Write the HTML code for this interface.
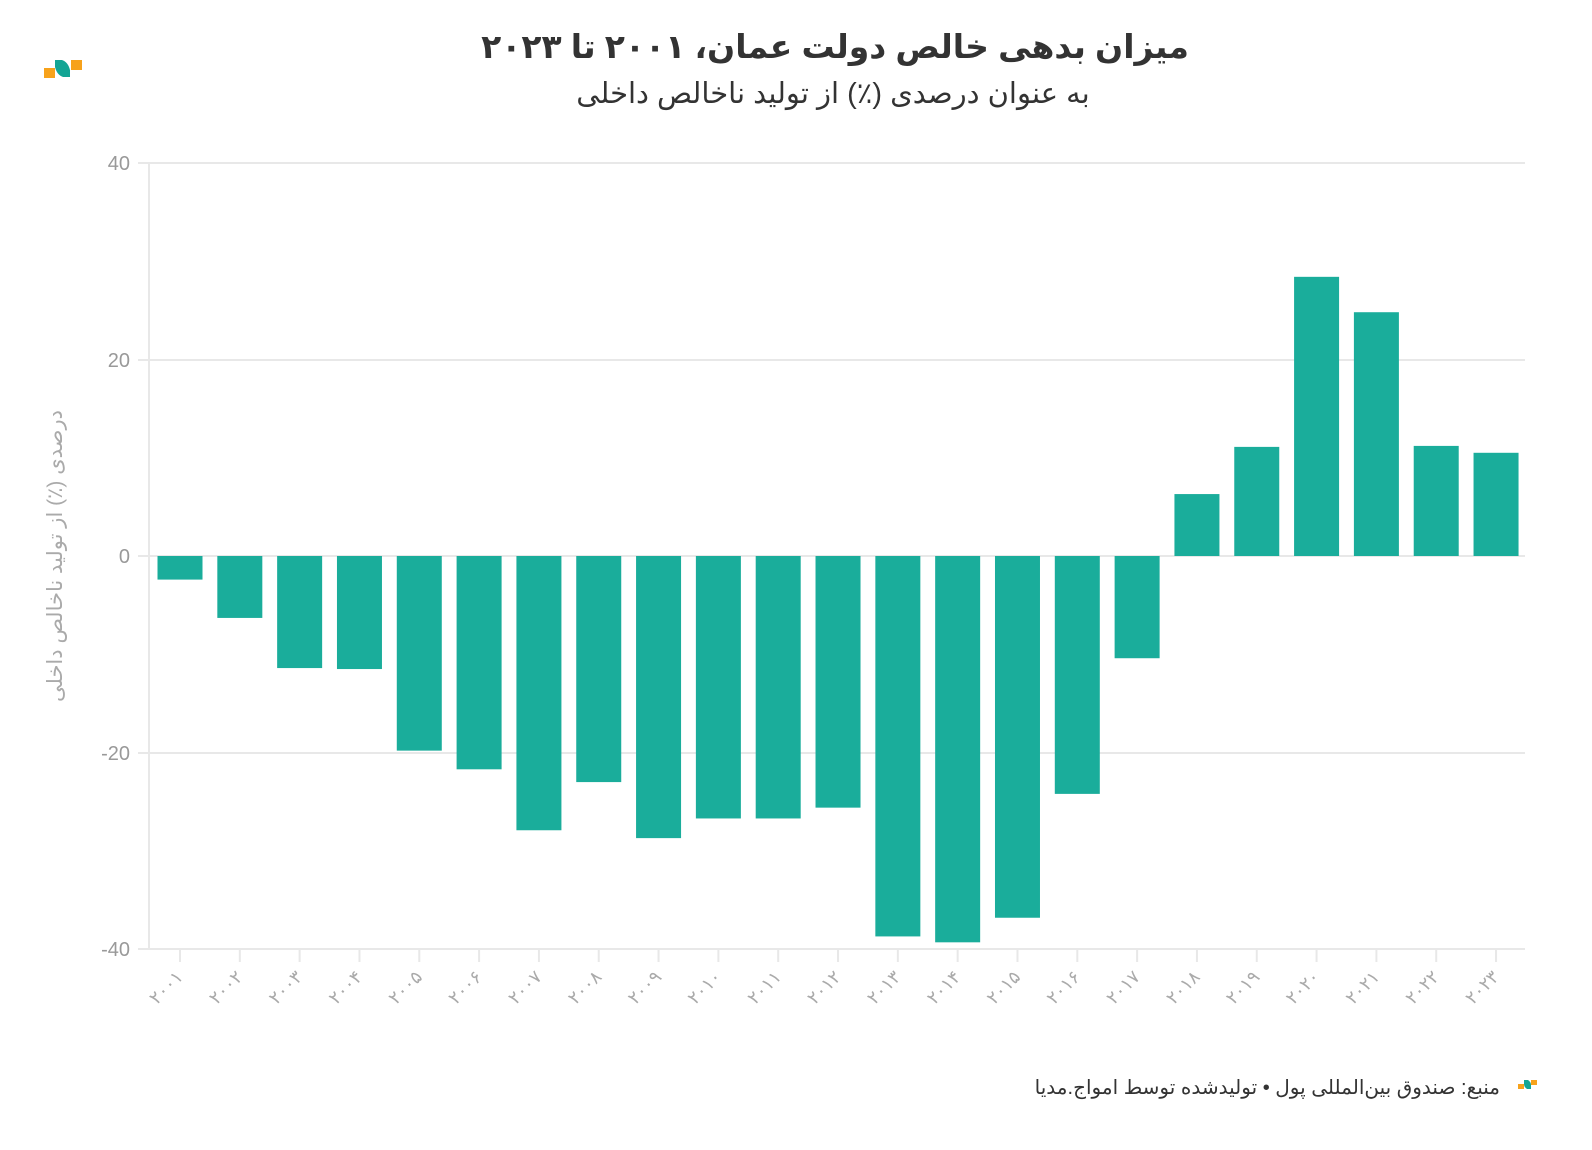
<!DOCTYPE html>
<html><head><meta charset="utf-8"><style>
html,body{margin:0;padding:0;background:#fff;}
svg{display:block;}
text{font-family:"Liberation Sans","Noto Sans CJK SC","DejaVu Sans",sans-serif;}
</style></head><body>
<svg id="s" width="1592" height="1150" viewBox="0 0 1592 1150" xmlns="http://www.w3.org/2000/svg">
<rect width="1592" height="1150" fill="#fff"/>
<rect x="44" y="68" width="11" height="10" fill="#f7a21b"/>
<rect x="71" y="60" width="11" height="10" fill="#f7a21b"/>
<path d="M55 60 L62 60 Q68 62 70 70 L70 77 L63 77 Q57 75 55 67 Z" fill="#13a595"/>
<text x="835" y="58" text-anchor="middle" font-size="33" font-weight="bold" fill="#333">میزان بدهی خالص دولت عمان، ۲۰۰۱ تا ۲۰۲۳</text>
<text x="833" y="103" text-anchor="middle" font-size="29" fill="#333">به عنوان درصدی (٪) از تولید ناخالص داخلی</text>
<g stroke="#e8e8e8" stroke-width="2">
<line x1="138" y1="163" x2="1525" y2="163"/>
<line x1="138" y1="360" x2="1525" y2="360"/>
<line x1="138" y1="556" x2="1525" y2="556"/>
<line x1="138" y1="753" x2="1525" y2="753"/>
<line x1="138" y1="949" x2="1525" y2="949"/>
<line x1="149" y1="163" x2="149" y2="949"/>
</g>
<g font-size="20" fill="#999" text-anchor="end">
<text x="130" y="170">40</text>
<text x="130" y="367">20</text>
<text x="130" y="563">0</text>
<text x="130" y="760">-20</text>
<text x="130" y="956">-40</text>
</g>
<text transform="translate(62,556) rotate(-90)" text-anchor="middle" font-size="21" fill="#aaa">درصدی (٪) از تولید ناخالص داخلی</text>
<g id="bars"></g>
<text x="1500" y="1094" text-anchor="end" font-size="20" fill="#333">منبع: صندوق بین‌المللی پول • تولیدشده توسط امواج.مدیا</text>
<rect x="1518" y="1084" width="6" height="5" fill="#f7a21b"/>
<rect x="1531" y="1080" width="6" height="5" fill="#f7a21b"/>
<path d="M1524 1080 L1528 1080 Q1531 1082 1531 1085 L1531 1089 L1527 1089 Q1524 1087 1524 1084 Z" fill="#13a595"/>
</svg>
<script>
(function(){
var v=[-2.4,-6.3,-11.4,-11.5,-19.8,-21.7,-27.9,-23,-28.7,-26.7,-26.7,-25.6,-38.7,-39.3,-36.8,-24.2,-10.4,6.3,11.1,28.4,24.8,11.2,10.5];
var fa="۰۱۲۳۴۵۶۷۸۹";
var NS="http://www.w3.org/2000/svg";
var g=document.getElementById('bars');
function el(n,a,t){var e=document.createElementNS(NS,n);for(var k in a)e.setAttribute(k,a[k]);if(t)e.textContent=t;g.appendChild(e);}
for(var i=0;i<v.length;i++){
 var cx=180+59.82*i, y0=556, yv=556-v[i]*9.83;
 var ty=Math.min(y0,yv), ht=Math.abs(yv-y0);
 el('rect',{x:cx-22.5,y:ty,width:45,height:ht,fill:'#1aad9b'});
 el('line',{x1:cx,y1:950,x2:cx,y2:962,stroke:'#e8e8e8','stroke-width':2});
 var yr=String(2001+i).replace(/\d/g,function(d){return fa[+d];});
 el('text',{transform:'translate('+(cx+4)+',978) rotate(-45)','text-anchor':'end','font-size':18,fill:'#aaa'},yr);
}
})();
</script>
</body></html>
